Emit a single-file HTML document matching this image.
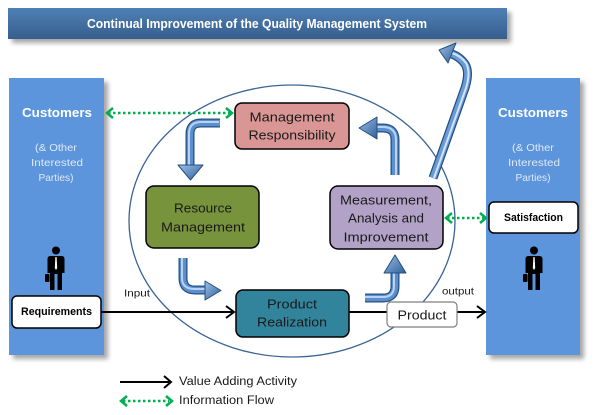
<!DOCTYPE html>
<html><head><meta charset="utf-8"><style>
html,body{margin:0;padding:0;background:#fff;}
svg{display:block;}
text{font-family:"Liberation Sans",sans-serif;}
</style></head><body>
<svg width="600" height="415" viewBox="0 0 600 415" xmlns="http://www.w3.org/2000/svg">
<defs>
  <filter id="sh" x="-20%" y="-20%" width="150%" height="150%">
    <feDropShadow dx="4" dy="4" stdDeviation="2.5" flood-color="#000" flood-opacity="0.35"/>
  </filter>
  <linearGradient id="tb" x1="0" y1="0" x2="0" y2="1">
    <stop offset="0" stop-color="#4f80b5"/>
    <stop offset="1" stop-color="#365e8d"/>
  </linearGradient>
  <linearGradient id="hd" x1="0" y1="0" x2="1" y2="1">
    <stop offset="0" stop-color="#9cc0ea"/>
    <stop offset="1" stop-color="#2f5f95"/>
  </linearGradient>
</defs>

<!-- Title bar -->
<rect x="8" y="8" width="499" height="31" fill="url(#tb)" filter="url(#sh)"/>
<text x="257" y="24" fill="#fff" font-size="12.5" font-weight="bold" text-anchor="middle" dominant-baseline="central" textLength="340" lengthAdjust="spacingAndGlyphs">Continual Improvement of the Quality Management System</text>

<!-- Customer columns -->
<rect x="9" y="78" width="95" height="277" fill="#5b95dc" filter="url(#sh)"/>
<rect x="486" y="78" width="94" height="277" fill="#5b95dc" filter="url(#sh)"/>

<g fill="#fff" text-anchor="middle" dominant-baseline="central">
  <text x="57" y="113" font-size="12.5" font-weight="bold" textLength="70" lengthAdjust="spacingAndGlyphs">Customers</text>
  <text x="533" y="113" font-size="12.5" font-weight="bold" textLength="70" lengthAdjust="spacingAndGlyphs">Customers</text>
</g>
<g fill="#dfe9f7" text-anchor="middle" dominant-baseline="central" font-size="10.5">
  <text x="56" y="148" textLength="42" lengthAdjust="spacingAndGlyphs">(&amp; Other</text>
  <text x="57" y="163" textLength="52" lengthAdjust="spacingAndGlyphs">Interested</text>
  <text x="56" y="178" textLength="35" lengthAdjust="spacingAndGlyphs">Parties)</text>
  <text x="533" y="148" textLength="42" lengthAdjust="spacingAndGlyphs">(&amp; Other</text>
  <text x="534" y="163" textLength="52" lengthAdjust="spacingAndGlyphs">Interested</text>
  <text x="533" y="178" textLength="35" lengthAdjust="spacingAndGlyphs">Parties)</text>
</g>

<!-- Person icons -->
<g id="person" fill="#000">
  <circle cx="56" cy="250.5" r="4"/>
  <path d="M50.5,256 L61.5,256 Q64.5,256 64.5,259 L64.5,273 L62,273 L62,290 L57.5,290 L57.5,274 L54.5,274 L54.5,290 L50,290 L50,273 L47.5,273 L47.5,259 Q47.5,256 50.5,256 Z"/>
  <rect x="45" y="274" width="4.5" height="8" rx="1"/>
  <path d="M55.4,257 L56.6,257 L57.2,268 L56,270 L54.8,268 Z" fill="#fff"/>
</g>
<use href="#person" x="478" y="0"/>

<!-- Ellipse -->
<ellipse cx="292" cy="221" rx="163" ry="136" fill="none" stroke="#3a6494" stroke-width="1.3"/>

<!-- Requirements -->
<rect x="12" y="296" width="89" height="32" rx="5" fill="#fff" stroke="#000" stroke-width="1.5"/>
<text x="56.5" y="312" font-size="11" font-weight="bold" text-anchor="middle" dominant-baseline="central" textLength="71" lengthAdjust="spacingAndGlyphs">Requirements</text>

<!-- Satisfaction -->
<rect x="489" y="202" width="89" height="31" rx="5" fill="#fff" stroke="#000" stroke-width="1.5"/>
<text x="533.5" y="218" font-size="11" font-weight="bold" text-anchor="middle" dominant-baseline="central" textLength="59" lengthAdjust="spacingAndGlyphs">Satisfaction</text>

<!-- Process boxes -->
<rect x="235" y="103" width="114" height="46" rx="7" fill="#d99694" stroke="#000" stroke-width="1.5"/>
<g font-size="13" text-anchor="middle" dominant-baseline="central" fill="#1a1a1a">
  <text x="292" y="117" textLength="85" lengthAdjust="spacingAndGlyphs">Management</text>
  <text x="292" y="135" textLength="87" lengthAdjust="spacingAndGlyphs">Responsibility</text>
</g>

<rect x="146" y="186" width="113" height="62" rx="8" fill="#77933c" stroke="#000" stroke-width="1.5"/>
<g font-size="13" text-anchor="middle" dominant-baseline="central" fill="#1a1a1a">
  <text x="203" y="208" textLength="58" lengthAdjust="spacingAndGlyphs">Resource</text>
  <text x="203" y="227" textLength="84" lengthAdjust="spacingAndGlyphs">Management</text>
</g>

<rect x="330" y="186" width="113" height="63" rx="8" fill="#b3a2c7" stroke="#000" stroke-width="1.5"/>
<g font-size="13" text-anchor="middle" dominant-baseline="central" fill="#1a1a1a">
  <text x="386" y="200" textLength="92" lengthAdjust="spacingAndGlyphs">Measurement,</text>
  <text x="386" y="218" textLength="76" lengthAdjust="spacingAndGlyphs">Analysis and</text>
  <text x="386" y="237" textLength="85" lengthAdjust="spacingAndGlyphs">Improvement</text>
</g>

<rect x="236" y="290" width="113" height="47" rx="7" fill="#31849b" stroke="#000" stroke-width="1.5"/>
<g font-size="13" text-anchor="middle" dominant-baseline="central" fill="#1a1a1a">
  <text x="292" y="304" textLength="50" lengthAdjust="spacingAndGlyphs">Product</text>
  <text x="292" y="322" textLength="70" lengthAdjust="spacingAndGlyphs">Realization</text>
</g>

<!-- Black value flow -->
<g stroke="#000" stroke-width="2" fill="none">
  <line x1="101" y1="312" x2="234" y2="312"/>
  <polyline points="226,306 234,312 226,318"/>
  <line x1="349" y1="312" x2="387" y2="312"/>
  <line x1="457" y1="312" x2="484" y2="312"/>
  <polyline points="477,306 485,312 477,318"/>
</g>

<!-- Product box -->
<rect x="387" y="302" width="70" height="25" rx="4" fill="#fff" stroke="#7f7f7f" stroke-width="1.2"/>
<text x="422" y="315" font-size="13" text-anchor="middle" dominant-baseline="central" fill="#1a1a1a" textLength="49" lengthAdjust="spacingAndGlyphs">Product</text>

<text x="137" y="294" font-size="10" text-anchor="middle" dominant-baseline="central" fill="#1a1a1a" textLength="26" lengthAdjust="spacingAndGlyphs">Input</text>
<text x="458" y="292" font-size="10" text-anchor="middle" dominant-baseline="central" fill="#1a1a1a" textLength="32" lengthAdjust="spacingAndGlyphs">output</text>

<!-- Green info flow -->
<g stroke="#00b050" stroke-width="2.5" fill="none">
  <line x1="108" y1="113" x2="231" y2="113" stroke-dasharray="2.5,2.5"/>
  <polyline points="113,108 107,113 113,118"/>
  <polyline points="226,108 232,113 226,118"/>
  <line x1="447" y1="218" x2="485" y2="218" stroke-dasharray="2.5,2.5"/>
  <polyline points="452,213 446,218 452,223"/>
  <polyline points="480,213 486,218 480,223"/>
</g>

<!-- Blue curved arrows -->
<g fill="none" stroke-linejoin="round">
  <!-- A: Mgmt -> Resource -->
  <path d="M220,123 L201,123 Q190,123 190,134 L190,166" stroke="#24507f" stroke-width="9"/>
  <path d="M220,123 L201,123 Q190,123 190,134 L190,166" stroke="#5b8fcf" stroke-width="6.5"/>
  <path d="M219,122 L201,122 Q189,122 189,134 L189,166" stroke="#b9d3f0" stroke-width="2"/>
  <!-- B: Meas -> Mgmt -->
  <path d="M395,175 L395,140 Q395,128 383,128 L376,128" stroke="#24507f" stroke-width="9"/>
  <path d="M395,175 L395,140 Q395,128 383,128 L376,128" stroke="#5b8fcf" stroke-width="6.5"/>
  <path d="M396,175 L396,140 Q396,127 383,127 L376,127" stroke="#b9d3f0" stroke-width="2"/>
  <!-- C: Resource -> Product -->
  <path d="M183,258 L183,278 Q183,290 195,290 L205,290" stroke="#24507f" stroke-width="9"/>
  <path d="M183,258 L183,278 Q183,290 195,290 L205,290" stroke="#5b8fcf" stroke-width="6.5"/>
  <path d="M182,258 L182,278 Q182,289 195,289 L205,289" stroke="#b9d3f0" stroke-width="2"/>
  <!-- D: Product -> Meas -->
  <path d="M365,298 L383,298 Q395,298 395,286 L395,272" stroke="#24507f" stroke-width="9"/>
  <path d="M365,298 L383,298 Q395,298 395,286 L395,272" stroke="#5b8fcf" stroke-width="6.5"/>
  <path d="M365,297 L383,297 Q394,297 394,286 L394,272" stroke="#b9d3f0" stroke-width="2"/>
  <!-- E: big arrow -->
  <path d="M433,178 L465,88 Q470,72 465,64 Q460,57 452,54" stroke="#24507f" stroke-width="9"/>
  <path d="M433,178 L465,88 Q470,72 465,64 Q460,57 452,54" stroke="#6a9bd6" stroke-width="6.5"/>
  <path d="M434,178 L466,88 Q471,72 466,63 Q461,56 452,53" stroke="#d2e4f7" stroke-width="2"/>
</g>
<g fill="url(#hd)" stroke="#24507f" stroke-width="1" stroke-linejoin="round">
  <polygon points="178,165 203,165 190.5,180"/>
  <polygon points="377,117 377,139 359,128"/>
  <polygon points="205,281 205,300 221,290.5"/>
  <polygon points="384,273 406,273 395,255"/>
  <polygon points="439,50 456,43 448,63"/>
</g>

<!-- Legend -->
<g stroke="#000" stroke-width="2" fill="none">
  <line x1="120" y1="382" x2="171" y2="382"/>
  <polyline points="164,376 171,382 164,388"/>
</g>
<g stroke="#00b050" stroke-width="2.5" fill="none">
  <line x1="123" y1="401" x2="169" y2="401" stroke-dasharray="2.5,2.5"/>
  <polyline points="127,396 121,401 127,406"/>
  <polyline points="166,396 172,401 166,406"/>
</g>
<g font-size="11.5" dominant-baseline="central" fill="#1a1a1a">
  <text x="179" y="382" textLength="118" lengthAdjust="spacingAndGlyphs">Value Adding Activity</text>
  <text x="179" y="401" textLength="95" lengthAdjust="spacingAndGlyphs">Information Flow</text>
</g>
</svg>
</body></html>
